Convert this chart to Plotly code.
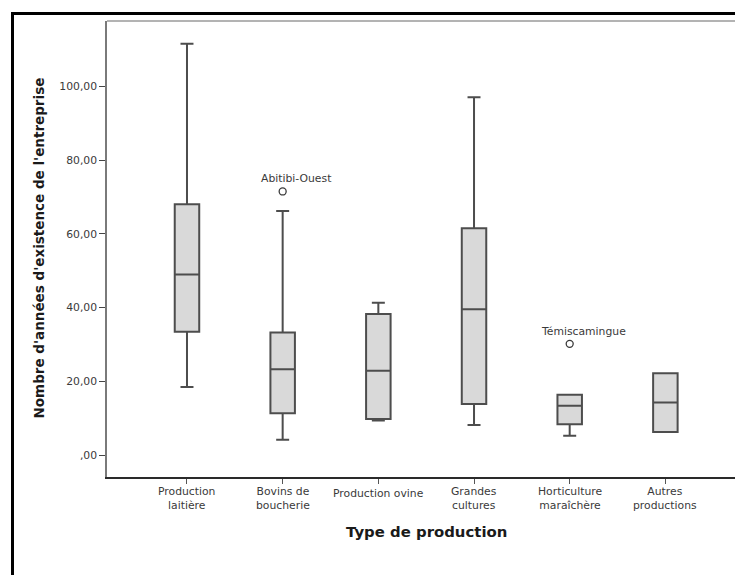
import plotly.graph_objects as go

# ---- data ----
categories = ["Production laitière", "Bovins de boucherie", "Production ovine",
              "Grandes cultures", "Horticulture maraîchère", "Autres productions"]
category_labels = ["Production<br>laitière", "Bovins de<br>boucherie", "Production ovine",
                   "Grandes<br>cultures", "Horticulture<br>maraîchère", "Autres<br>productions"]

lower_whisker = [18.5, 4.2, 9.4, 8.2, 5.3, 6.3]
q1_values     = [33.5, 11.4, 9.8, 13.9, 8.4, 6.3]
medians       = [49.0, 23.3, 22.9, 39.6, 13.4, 14.3]
q3_values     = [68.0, 33.3, 38.3, 61.5, 16.4, 22.2]
upper_whisker = [111.5, 66.2, 41.3, 97.0, 16.4, 22.2]

outlier_categories = ["Bovins de boucherie", "Horticulture maraîchère"]
outlier_values = [71.5, 30.2]
outlier_labels = ["Abitibi-Ouest", "Témiscamingue"]

y_tickvals = [0, 20, 40, 60, 80, 100]
y_ticktext = [",00", "20,00", "40,00", "60,00", "80,00", "100,00"]

x_title = "Type de production"
y_title = "Nombre d'années d'existence de l'entreprise"

# ---- figure (page has an 8px body margin, so the figure is offset by 8px) ----
OFF = 8
W, H = 743 - OFF, 575 - OFF
ML, MT = 107 - OFF, 21 - OFF
MR = W - (740 - OFF)
MB = H - (477 - OFF)
plot_h = H - MT - MB
plot_w = W - ML - MR

def py(pix):   # page pixel y -> paper y
    return 1 - (pix - OFF - MT) / plot_h

def px(pix):   # page pixel x -> paper x
    return (pix - OFF - ML) / plot_w

fig = go.Figure()
for i, cat in enumerate(categories):
    fig.add_trace(go.Box(
        x=[cat],
        q1=[q1_values[i]], median=[medians[i]], q3=[q3_values[i]],
        lowerfence=[lower_whisker[i]], upperfence=[upper_whisker[i]],
        width=0.256, whiskerwidth=0.53,
        fillcolor="#d9d9d9",
        line=dict(color="#4d4d4d", width=2),
        boxpoints=False, showlegend=False, hoverinfo="skip",
    ))

fig.add_trace(go.Scatter(
    x=outlier_categories, y=outlier_values, mode="markers",
    marker=dict(symbol="circle-open", size=7, color="#3a3a3a", line=dict(width=1.3)),
    showlegend=False, hoverinfo="skip",
))

font_small = dict(family="DejaVu Sans", size=10.8, color="#3a3a3a")

annotations = []
for cat, val, lab in zip(outlier_categories, outlier_values, outlier_labels):
    annotations.append(dict(x=cat, y=val, xref="x", yref="y", text=lab, showarrow=False,
                            xshift=13.5, yshift=12.5, font=font_small,
                            xanchor="center", yanchor="middle"))

for cat, lab in zip(categories, category_labels):
    two_lines = "<br>" in lab
    annotations.append(dict(x=cat, y=py(498.5 if two_lines else 493.5), xref="x", yref="paper",
                            text=lab, showarrow=False, font=font_small,
                            xanchor="center", yanchor="middle"))

annotations.append(dict(x=px(426), y=py(532), xref="paper", yref="paper", text="<b>" + x_title + "</b>",
                        showarrow=False, font=dict(family="DejaVu Sans", size=14.9, color="#1a1a1a"),
                        xanchor="center", yanchor="middle"))
annotations.append(dict(x=px(38.5), y=py(248), xref="paper", yref="paper", text="<b>" + y_title + "</b>",
                        showarrow=False, textangle=-90,
                        font=dict(family="DejaVu Sans", size=13.5, color="#1a1a1a"),
                        xanchor="center", yanchor="middle"))

shapes = [
    # outer frame (thick black, runs past the right and bottom edges)
    dict(type="rect", xref="paper", yref="paper", x0=px(12.5), x1=px(780), y0=py(640), y1=py(13.5),
         line=dict(color="#000000", width=3), fillcolor="rgba(0,0,0,0)", layer="above"),
    # top edge of plot frame
    dict(type="line", xref="paper", yref="paper", x0=0, x1=1, y0=1, y1=1,
         line=dict(color="#9a9a9a", width=1.5)),
    # right edge of plot frame
    dict(type="line", xref="paper", yref="paper", x0=1, x1=1, y0=0, y1=1,
         line=dict(color="#d0d0d0", width=1)),
]

fig.update_layout(
    width=W, height=H,
    margin=dict(l=ML, r=MR, t=MT, b=MB, pad=0),
    paper_bgcolor="white", plot_bgcolor="white",
    showlegend=False,
    annotations=annotations, shapes=shapes,
    xaxis=dict(type="category", categoryorder="array", categoryarray=categories,
               range=[-0.836, 5.78], showgrid=False, zeroline=False,
               showline=True, linecolor="#2a2a2a", linewidth=1.5,
               ticks="outside", ticklen=5, tickcolor="#555555", tickwidth=1,
               showticklabels=False, fixedrange=True),
    yaxis=dict(range=[-5.9, 117.7], tickvals=y_tickvals, ticktext=y_ticktext,
               showgrid=False, zeroline=False,
               showline=True, linecolor="#7a7a7a", linewidth=1.5,
               ticks="outside", ticklen=6, tickcolor="#444444", tickwidth=1,
               tickfont=font_small, fixedrange=True),
)

fig.write_html("out.html")
